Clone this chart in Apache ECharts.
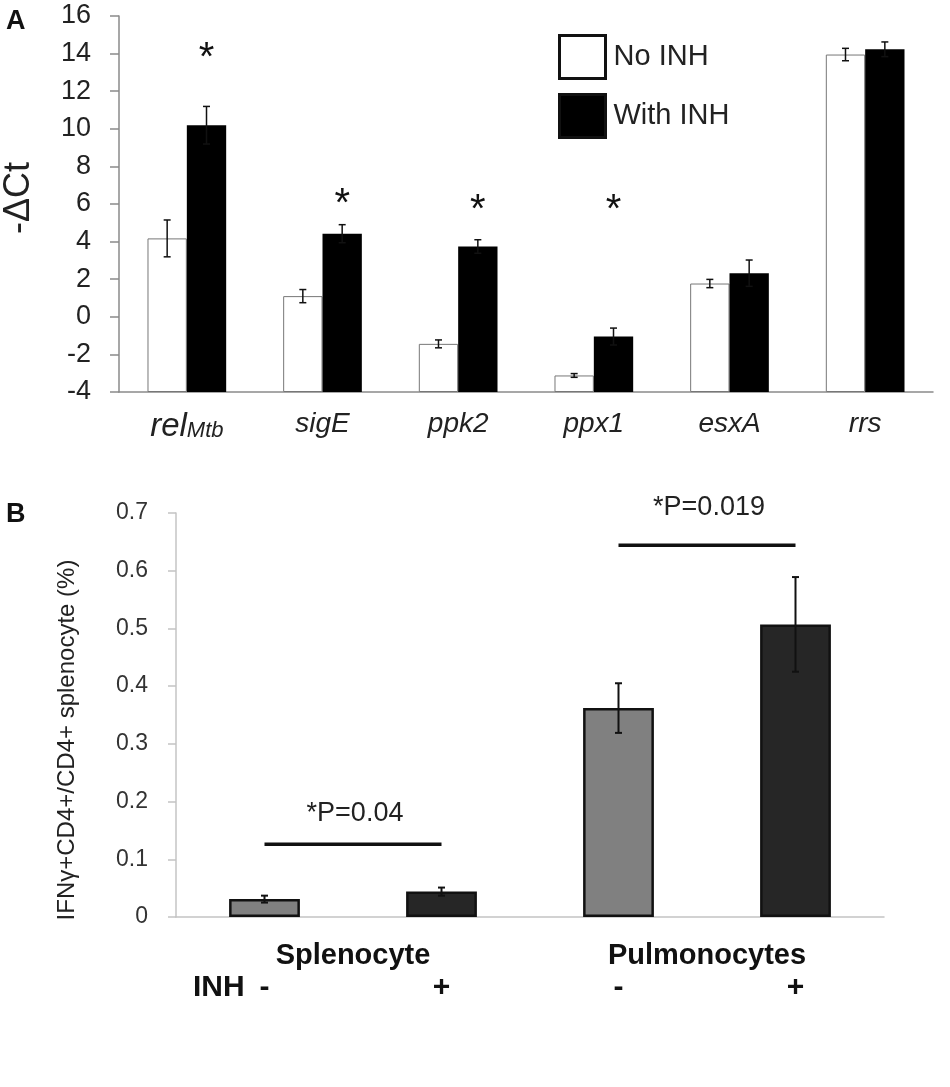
<!DOCTYPE html>
<html>
<head>
<meta charset="utf-8">
<script src="https://cdn.jsdelivr.net/npm/echarts@6/dist/echarts.min.js"></script>
<style>
html, body { margin: 0; padding: 0; background: #fff; }
#chart { width: 950px; height: 1087px; }
</style>
</head>
<body>
<div id="chart"></div>
<script>
// panel A: -dCt per gene
var genes = ['relMtb', 'sigE', 'ppk2', 'ppx1', 'esxA', 'rrs'];
var noInh = [4.17, 1.10, -1.44, -3.12, 1.77, 13.95];
var noInhErr = [0.98, 0.35, 0.21, 0.10, 0.22, 0.33];
var withInh = [10.19, 4.42, 3.74, -1.05, 2.32, 14.23];
var withInhErr = [1.00, 0.48, 0.36, 0.45, 0.70, 0.39];
var starGenes = [0, 1, 2, 3];
var starLevel = [14.2, 6.45, 6.1, 6.1];
var yMinA = -4;

// panel B: IFNg+ cells
var cellGroups = ['Splenocyte', 'Pulmonocytes'];
var inhLabels = ['-', '+', '-', '+'];
var cellValues = [0.031, 0.044, 0.362, 0.507];
var cellErr = [0.006, 0.007, 0.043, 0.082];
var bracketFrom = [0.03, 1.97];
var bracketTo = [1.0, 2.94];
var bracketLevel = [0.126, 0.644];
var bracketTextLevel = [0.180, 0.709];
var bracketText = ['*P=0.04', '*P=0.019'];

var FONT = 'Liberation Sans';
var myChart = echarts.init(document.getElementById('chart'));

// error bars drawn through the axes
function errSeries(xIdx, yIdx, vals, errs, shift, cap, lw) {
    return {
        type: 'custom',
        xAxisIndex: xIdx,
        yAxisIndex: yIdx,
        z: 5,
        silent: true,
        clip: false,
        data: vals.map(function (v, i) { return [i, v, errs[i]]; }),
        encode: { x: 0, y: 1 },
        renderItem: function (params, api) {
            var band = api.size([1, 0])[0];
            var hi = api.coord([api.value(0), api.value(1) + api.value(2)]);
            var lo = api.coord([api.value(0), api.value(1) - api.value(2)]);
            var x = hi[0] + shift * band;
            var st = { stroke: '#111', lineWidth: lw };
            return {
                type: 'group',
                children: [
                    { type: 'line', shape: { x1: x, y1: hi[1], x2: x, y2: lo[1] }, style: st },
                    { type: 'line', shape: { x1: x - cap, y1: hi[1], x2: x + cap, y2: hi[1] }, style: st },
                    { type: 'line', shape: { x1: x - cap, y1: lo[1], x2: x + cap, y2: lo[1] }, style: st }
                ]
            };
        }
    };
}

// bars in panel A rise from the axis minimum (-4), so stack them on an invisible base
function baseSeries(stackName) {
    return {
        type: 'bar',
        stack: stackName,
        stackStrategy: 'all',
        xAxisIndex: 0,
        yAxisIndex: 0,
        silent: true,
        barWidth: '29%',
        barGap: '0%',
        data: genes.map(function () { return yMinA; }),
        itemStyle: { color: 'rgba(0,0,0,0)' }
    };
}

var option = {
    animation: false,
    textStyle: { fontFamily: FONT },
    legend: {
        orient: 'vertical',
        left: 553,
        top: 29,
        itemWidth: 46,
        itemHeight: 43,
        itemGap: 13,
        selectedMode: false,
        textStyle: { fontSize: 29, color: '#222', fontFamily: FONT, padding: [0, 0, 0, 3] },
        data: [
            { name: 'No INH', icon: 'rect', itemStyle: { color: '#fff', borderColor: '#111', borderWidth: 3 } },
            { name: 'With INH', icon: 'rect', itemStyle: { color: '#000', borderColor: '#111', borderWidth: 3 } }
        ]
    },
    grid: [
        { left: 119, top: 16, width: 814, height: 376 },
        { left: 176, top: 513, width: 708, height: 404 }
    ],
    xAxis: [
        {
            gridIndex: 0,
            type: 'category',
            data: genes,
            axisLine: { onZero: false, lineStyle: { color: '#8a8a8a', width: 1.5 } },
            axisTick: { length: 9, lineStyle: { color: '#8a8a8a', width: 1.5 } },
            axisLabel: {
                margin: 18,
                color: '#222',
                formatter: function (v) {
                    if (v === 'relMtb') return '{b|rel}{s|Mtb}';
                    return '{i|' + v + '}';
                },
                rich: {
                    b: { fontSize: 33, fontStyle: 'italic', fontFamily: FONT, color: '#222' },
                    s: { fontSize: 22, fontStyle: 'italic', fontFamily: FONT, color: '#222', padding: [8, 0, 0, 0] },
                    i: { fontSize: 28, fontStyle: 'italic', fontFamily: FONT, color: '#222' }
                }
            }
        },
        {
            gridIndex: 1,
            type: 'category',
            data: inhLabels,
            axisLine: { lineStyle: { color: '#c4c4c4', width: 1.5 } },
            axisTick: { length: 8, lineStyle: { color: '#c4c4c4', width: 1.5 } },
            axisLabel: { margin: 56, fontSize: 30, fontWeight: 'bold', color: '#111', fontFamily: FONT }
        },
        {
            gridIndex: 1,
            type: 'category',
            data: cellGroups,
            position: 'bottom',
            axisLine: { show: false },
            axisTick: { show: false },
            axisLabel: { margin: 24, fontSize: 29, fontWeight: 'bold', color: '#111', fontFamily: FONT }
        }
    ],
    yAxis: [
        {
            gridIndex: 0,
            type: 'value',
            min: yMinA,
            max: 16,
            interval: 2,
            splitLine: { show: false },
            axisLine: { show: true, lineStyle: { color: '#8a8a8a', width: 1.5 } },
            axisTick: { show: true, length: 9, lineStyle: { color: '#8a8a8a', width: 1.5 } },
            axisLabel: { margin: 28, fontSize: 27, color: '#222', fontFamily: FONT }
        },
        {
            gridIndex: 1,
            type: 'value',
            min: 0,
            max: 0.7,
            interval: 0.1,
            splitLine: { show: false },
            axisLine: { show: true, lineStyle: { color: '#c4c4c4', width: 1.5 } },
            axisTick: { show: true, length: 8, lineStyle: { color: '#c4c4c4', width: 1.5 } },
            axisLabel: { margin: 28, fontSize: 23, color: '#333', fontFamily: FONT }
        }
    ],
    graphic: [
        { type: 'text', x: 6, y: 22, style: { text: 'A', font: 'bold 27px "Liberation Sans"', fill: '#111', verticalAlign: 'middle' } },
        { type: 'text', x: 6, y: 515, style: { text: 'B', font: 'bold 27px "Liberation Sans"', fill: '#111', verticalAlign: 'middle' } },
        { type: 'text', x: 19, y: 198, rotation: Math.PI / 2, style: { text: '-\u0394Ct', font: '36px "Liberation Sans"', fill: '#222', align: 'center', verticalAlign: 'middle' } },
        { type: 'text', x: 67, y: 740, rotation: Math.PI / 2, style: { text: 'IFN\u03b3+CD4+/CD4+ splenocyte (%)', font: '24px "Liberation Sans"', fill: '#222', align: 'center', verticalAlign: 'middle' } },
        { type: 'text', x: 193, y: 988, style: { text: 'INH', font: 'bold 30px "Liberation Sans"', fill: '#111', verticalAlign: 'middle' } }
    ],
    series: [
        baseSeries('noInh'),
        {
            name: 'No INH',
            type: 'bar',
            stack: 'noInh',
            stackStrategy: 'all',
            xAxisIndex: 0,
            yAxisIndex: 0,
            data: noInh.map(function (v) { return v - yMinA; }),
            barWidth: '29%',
            barGap: '0%',
            itemStyle: { color: '#fff', borderColor: '#777', borderWidth: 1 }
        },
        baseSeries('withInh'),
        {
            name: 'With INH',
            type: 'bar',
            stack: 'withInh',
            stackStrategy: 'all',
            xAxisIndex: 0,
            yAxisIndex: 0,
            data: withInh.map(function (v) { return v - yMinA; }),
            barWidth: '29%',
            barGap: '0%',
            itemStyle: { color: '#000' }
        },
        errSeries(0, 0, noInh, noInhErr, -0.145, 3.5, 1.5),
        errSeries(0, 0, withInh, withInhErr, 0.145, 3.5, 1.5),
        {
            type: 'custom',
            xAxisIndex: 0,
            yAxisIndex: 0,
            silent: true,
            clip: false,
            data: starGenes.map(function (g, i) { return [g, starLevel[i]]; }),
            encode: { x: 0, y: 1 },
            renderItem: function (params, api) {
                var band = api.size([1, 0])[0];
                var p = api.coord([api.value(0), api.value(1)]);
                return {
                    type: 'text',
                    x: p[0] + 0.145 * band,
                    y: p[1] + 9,
                    style: { text: '*', font: '40px "Liberation Sans"', fill: '#111', align: 'center', verticalAlign: 'middle' }
                };
            }
        },
        {
            name: 'cells',
            type: 'bar',
            xAxisIndex: 1,
            yAxisIndex: 1,
            data: cellValues.map(function (v, i) {
                return { value: v, itemStyle: { color: i % 2 === 0 ? '#808080' : '#262626' } };
            }),
            barWidth: '40%',
            itemStyle: { borderColor: '#111', borderWidth: 2.5 }
        },
        errSeries(1, 1, cellValues, cellErr, 0, 3.5, 2),
        {
            type: 'custom',
            xAxisIndex: 1,
            yAxisIndex: 1,
            silent: true,
            clip: false,
            data: bracketFrom.map(function (f, i) { return [f, bracketLevel[i], bracketTo[i], bracketTextLevel[i], i]; }),
            encode: { x: 0, y: 1 },
            renderItem: function (params, api) {
                var a = api.coord([api.value(0), api.value(1)]);
                var b = api.coord([api.value(2), api.value(1)]);
                var t = api.coord([api.value(0), api.value(3)]);
                var idx = api.value(4);
                return {
                    type: 'group',
                    children: [
                        { type: 'line', shape: { x1: a[0], y1: a[1], x2: b[0], y2: b[1] }, style: { stroke: '#111', lineWidth: 3.5 } },
                        { type: 'text', x: (a[0] + b[0]) / 2 + 2, y: t[1], style: { text: bracketText[idx], font: '27px "Liberation Sans"', fill: '#222', align: 'center', verticalAlign: 'middle' } }
                    ]
                };
            }
        }
    ]
};
myChart.setOption(option);
</script>
</body>
</html>
